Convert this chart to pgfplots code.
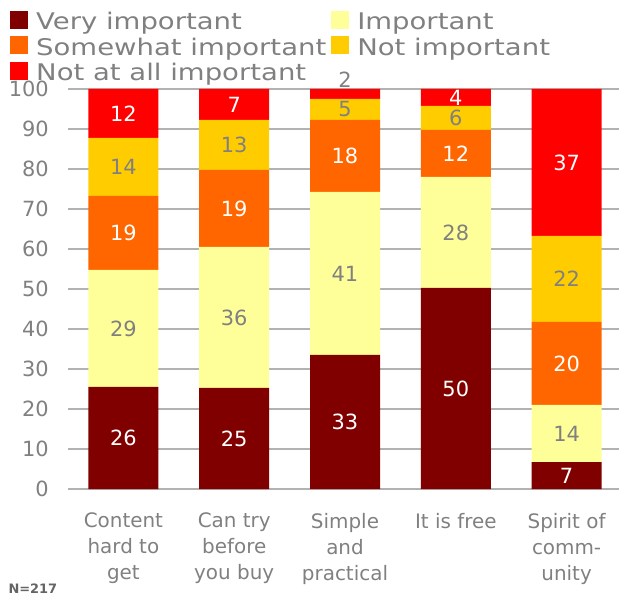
\documentclass[border=0pt]{standalone}
\usepackage{fontspec}
\setmainfont{DejaVu Sans}
\newfontfamily\legfont{DejaVu Sans}[FakeStretch=1.2]
\usepackage{pgfplots}
\usepackage{pgfplotstable}
\pgfplotsset{compat=1.18}
\definecolor{cvi}{RGB}{128,0,0}
\definecolor{cim}{RGB}{255,255,153}
\definecolor{csw}{RGB}{255,102,0}
\definecolor{cni}{RGB}{255,204,0}
\definecolor{cna}{RGB}{255,0,0}
\definecolor{labgray}{RGB}{128,128,128}
\definecolor{gridgray}{RGB}{178,178,178}

% x = category, y = share, lab = printed label, off = extra label offset, g = grey share of label colour
\pgfplotstableread{
x y lab off g
0 25.5 26 0 0
1 25.25 25 0 0
2 33.5 33 0 0
3 50.25 50 0 0
4 6.75 7 0 0
}\tvi
\pgfplotstableread{
x y lab off g
0 29.25 29 0 100
1 35.25 36 0 100
2 40.75 41 0 100
3 27.75 28 0 100
4 14.25 14 0 100
}\tim
\pgfplotstableread{
x y lab off g
0 18.5 19 0 0
1 19.25 19 0 0
2 18 18 0 0
3 11.75 12 0 0
4 20.75 20 0 0
}\tsw
\pgfplotstableread{
x y lab off g
0 14.5 14 0 100
1 12.5 13 0 100
2 5.25 5 0 100
3 6 6 0 100
4 21.5 22 0 100
}\tni
\pgfplotstableread{
x y lab off g
0 12.25 12 0 0
1 7.75 7 0 0
2 2.5 2 3.5 100
3 4.25 4 0 0
4 36.75 37 0 0
}\tna

\begin{document}
\begin{tikzpicture}
\begin{axis}[
  name=ax,
  scale only axis,
  width=554bp, height=400bp,
  ybar stacked,
  bar width=70bp,
  xmin=-0.5, xmax=4.5, ymin=0, ymax=100,
  enlargelimits=false,
  clip=false,
  xtick={0,1,2,3,4},
  xticklabels={{Content\\hard to\\get},{Can try\\before\\you buy},{Simple\\and\\practical},{It is free},{Spirit of\\comm-\\unity}},
  xticklabel style={align=center, font=\fontsize{20}{26}\selectfont, text=labgray, inner sep=0pt, anchor=north, yshift=-24bp},
  ytick={0,10,...,100},
  yticklabel style={font=\fontsize{21}{21}\selectfont, text=labgray, inner sep=0pt, anchor=east, xshift=-19bp},
  /pgf/number format/assume math mode=true,
  ymajorgrids,
  grid style={line width=1.3bp, color=gridgray},
  axis line style={draw=none},
  tick style={draw=none},
  nodes near coords,
  point meta=explicit symbolic,
  visualization depends on={\thisrow{off}\as\off},
  visualization depends on={\thisrow{g}\as\lg},
  every node near coord/.append style={font=\fontsize{21}{21}\selectfont, anchor=center, inner sep=0pt, shift={(axis direction cs:0,\off)}, text={labgray!\lg!white}},
  legend columns=2,
  legend cell align=left,
  legend style={at={(0,1)}, anchor=north west, xshift=-58bp, yshift=78bp, draw=none, fill=none,
    font=\legfont\fontsize{23}{23}\selectfont, text=labgray, inner sep=0pt, row sep=1.5bp,
    nodes={inner sep=0pt, text height=17.5bp, text depth=5bp},
    /tikz/every odd column/.style={column sep=8bp},
    /tikz/every even column/.style={column sep=5bp}},
  sq/.style={draw=none, legend image code/.code={\fill[##1,draw=none] (0bp,-5.5bp) rectangle (18bp,12.5bp);}},
]
\addplot[sq, fill=cvi] table[x=x, y=y, meta=lab] {\tvi};
\addplot[sq, fill=cim] table[x=x, y=y, meta=lab] {\tim};
\addplot[sq, fill=csw] table[x=x, y=y, meta=lab] {\tsw};
\addplot[sq, fill=cni] table[x=x, y=y, meta=lab] {\tni};
\addplot[sq, fill=cna] table[x=x, y=y, meta=lab] {\tna};
\legend{Very important, Important, Somewhat important, Not important, Not at all important}
\end{axis}
\node[anchor=base west, font=\bfseries\fontsize{13}{13}\selectfont, text={rgb,255:red,100;green,100;blue,100}] at ([xshift=-63bp, yshift=-104bp]ax.south west) {N=217};
\pgfresetboundingbox
\path[use as bounding box] ([xshift=-68bp, yshift=-110bp]ax.south west) rectangle ([xshift=551bp, yshift=89bp]ax.north west);
\end{tikzpicture}
\end{document}
